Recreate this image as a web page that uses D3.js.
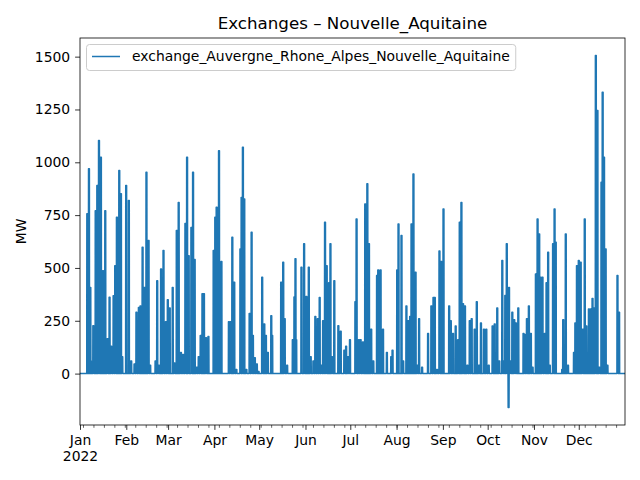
<!DOCTYPE html>
<html>
<head>
<meta charset="utf-8">
<script src="https://cdn.jsdelivr.net/npm/d3@7"></script>
<style>
  html, body { margin: 0; padding: 0; background: #fff; }
  svg { display: block; font-family: "DejaVu Sans", sans-serif; }
</style>
</head>
<body>
<svg id="chart" width="640" height="480"></svg>
<script>
// ---- data ----
const seriesName = "exchange_Auvergne_Rhone_Alpes_Nouvelle_Aquitaine";
const rangeStart = "2022-01-01 00";
const rangeEnd = "2022-12-31 23";
const monthTicks = ["2022-01-01 00","2022-02-01 00","2022-03-01 00","2022-04-01 00","2022-05-01 00","2022-06-01 00",
  "2022-07-01 00","2022-08-01 00","2022-09-01 00","2022-10-01 00","2022-11-01 00","2022-12-01 00"];
const monthLabels = ["Jan","Feb","Mar","Apr","May","Jun","Jul","Aug","Sep","Oct","Nov","Dec"];
const yearLabel = "2022";
const yTicks = [0, 250, 500, 750, 1000, 1250, 1500];

const spikeTimes = [
  "2022-01-05 21","2022-01-07 00","2022-01-07 22","2022-01-08 07","2022-01-09 22","2022-01-11 12","2022-01-12 14",
  "2022-01-13 17","2022-01-15 00","2022-01-16 10","2022-01-17 22","2022-01-19 10","2022-01-20 19","2022-01-21 22",
  "2022-01-23 12","2022-01-24 14","2022-01-25 17","2022-01-27 07","2022-01-28 10","2022-01-29 07","2022-01-31 22",
  "2022-02-02 17","2022-02-04 07","2022-02-06 12","2022-02-07 19","2022-02-09 10","2022-02-10 12","2022-02-11 22",
  "2022-02-13 05","2022-02-14 12","2022-02-15 22","2022-02-17 00","2022-02-20 14","2022-02-21 17","2022-02-22 19",
  "2022-02-24 07","2022-02-25 22","2022-02-27 12","2022-02-28 19",
  "2022-03-02 02","2022-03-04 02","2022-03-05 07","2022-03-06 19","2022-03-08 02","2022-03-09 14","2022-03-11 00",
  "2022-03-12 14","2022-03-13 17","2022-03-14 19","2022-03-16 14","2022-03-17 17","2022-03-18 19","2022-03-20 05",
  "2022-03-21 12","2022-03-22 19","2022-03-24 00","2022-03-25 00","2022-03-26 10","2022-03-28 00","2022-03-31 12",
  "2022-04-01 14","2022-04-02 12","2022-04-03 10","2022-04-04 02","2022-04-05 17","2022-04-10 17","2022-04-11 22",
  "2022-04-13 00","2022-04-14 07","2022-04-15 17","2022-04-18 10","2022-04-19 05","2022-04-20 02","2022-04-21 00",
  "2022-04-22 10","2022-04-24 14","2022-04-25 22","2022-04-26 19","2022-04-28 02","2022-04-29 10","2022-04-30 14",
  "2022-05-03 00","2022-05-04 10","2022-05-05 12","2022-05-06 19","2022-05-09 02","2022-05-09 17","2022-05-15 17",
  "2022-05-17 02","2022-05-18 02","2022-05-19 17","2022-05-23 12","2022-05-24 14","2022-05-25 07","2022-05-25 19",
  "2022-05-29 07","2022-05-31 02","2022-06-01 14","2022-06-03 05","2022-06-04 12","2022-06-06 07","2022-06-07 14",
  "2022-06-09 05","2022-06-10 12","2022-06-11 17","2022-06-12 19","2022-06-14 02","2022-06-15 05","2022-06-16 19",
  "2022-06-17 17","2022-06-18 19","2022-06-20 07","2022-06-23 00","2022-06-24 14","2022-06-27 00","2022-06-28 05",
  "2022-06-29 12","2022-06-30 19",
  "2022-07-04 10","2022-07-05 05","2022-07-06 19","2022-07-07 22","2022-07-09 12","2022-07-11 00","2022-07-12 10",
  "2022-07-13 12","2022-07-15 00","2022-07-16 10","2022-07-18 22","2022-07-19 17","2022-07-21 07","2022-07-22 22",
  "2022-07-25 12","2022-07-28 10","2022-07-29 07",
  "2022-08-01 10","2022-08-02 07","2022-08-04 07","2022-08-05 10","2022-08-07 14","2022-08-08 19","2022-08-10 02",
  "2022-08-11 00","2022-08-12 07","2022-08-13 17","2022-08-14 19","2022-08-16 02","2022-08-18 02","2022-08-22 02",
  "2022-08-24 07","2022-08-25 17","2022-08-26 14","2022-08-28 02","2022-08-29 17","2022-08-31 00",
  "2022-09-01 10","2022-09-05 05","2022-09-06 07","2022-09-07 19","2022-09-09 14","2022-09-11 05","2022-09-12 07",
  "2022-09-13 10","2022-09-14 12","2022-09-15 19","2022-09-17 10","2022-09-19 00","2022-09-20 07","2022-09-22 07",
  "2022-09-23 17","2022-09-25 05","2022-09-26 12","2022-09-28 12","2022-09-30 02",
  "2022-10-01 17","2022-10-04 07","2022-10-05 17","2022-10-07 10","2022-10-08 19","2022-10-10 19","2022-10-11 22",
  "2022-10-12 19","2022-10-13 19","2022-10-15 00","2022-10-15 07","2022-10-16 10","2022-10-17 12","2022-10-18 19",
  "2022-10-19 22","2022-10-21 12","2022-10-25 00","2022-10-25 22","2022-10-27 07","2022-10-28 14","2022-10-29 22",
  "2022-10-31 02",
  "2022-11-02 07","2022-11-03 10","2022-11-04 12","2022-11-05 10","2022-11-06 17","2022-11-08 07","2022-11-09 10",
  "2022-11-10 12","2022-11-11 14","2022-11-13 19","2022-11-14 19","2022-11-15 14","2022-11-19 22","2022-11-20 14",
  "2022-11-22 07","2022-11-23 19","2022-11-27 19","2022-11-28 17","2022-11-29 19",
  "2022-12-01 00","2022-12-02 07","2022-12-03 17","2022-12-05 00","2022-12-06 02","2022-12-07 19","2022-12-09 02",
  "2022-12-10 05","2022-12-11 02","2022-12-12 10","2022-12-13 12","2022-12-14 19","2022-12-16 05","2022-12-17 00",
  "2022-12-17 22","2022-12-19 00","2022-12-20 05","2022-12-26 22","2022-12-28 00"
];
const spikeValues = [
  756, 969, 408, 60, 227, 771, 890,
  1103, 1024, 487, 771, 165, 361, 130,
  369, 511, 740, 961, 851, 80, 890,
  819, 60, 45, 290, 313, 320, 598,
  408, 953, 630, 40, 60, 440, 40,
  495, 582, 245, 350,
  310, 407, 50, 677, 810, 100, 90,
  710, 1024, 558, 692, 953, 540, 30,
  80, 180, 378, 378, 170, 175, 582,
  740, 787, 520, 1055, 530, 245, 245,
  645, 432, 20, 590, 834, 1071, 826,
  20, 285, 669, 180, 75, 45, 10,
  456, 235, 180, 100, 274, 180, 432,
  527, 260, 40, 160, 363, 543, 160,
  503, 614, 365, 503, 80, 60, 270,
  260, 360, 40, 250, 716, 510, 430,
  614, 80, 440, 227, 200, 110, 130,
  80, 160,
  340, 732, 160, 160, 150, 803, 898,
  614, 210, 60, 464, 490, 490, 210,
  100, 80, 110,
  490, 708, 653, 60, 320, 250, 270,
  708, 945, 480, 40, 260, 30, 190,
  320, 360, 360, 20, 580, 530,
  779, 320, 250, 190, 225, 160, 716,
  810, 330, 320, 40, 250, 260, 210,
  340, 40, 240, 210, 210,
  40, 225, 235, 310, 60, 535, 60,
  370, 614, -160, 408, 60, 290, 255,
  240, 310, 190, 185, 260, 320, 190,
  30,
  471, 732, 661, 456, 456, 190, 430,
  574, 40, 614, 779, 622, 20, 255,
  661, 40, 100, 240, 511,
  535, 527, 210, 732, 225, 306, 306,
  355, 310, 1505, 1245, 30, 905, 1331,
  1024, 590, 40, 464, 290
];

// ---- layout ----
const m = { left: 80, right: 625, top: 38, bottom: 425 };
const color = "#1f77b4";
const svg = d3.select("#chart");
const parse = d3.utcParse("%Y-%m-%d %H");

const t0 = parse(rangeStart), t1 = parse(rangeEnd);
const spikes = spikeTimes.map((s, i) => ({ t: parse(s), v: spikeValues[i] }));

const vMin = Math.min(0, d3.min(spikeValues)), vMax = d3.max(spikeValues);
const pad = (vMax - vMin) * 0.05;
const x = d3.scaleUtc().domain([t0, t1]).range([m.left, m.right]);
const y = d3.scaleLinear().domain([vMin - pad, vMax + pad]).range([m.bottom, m.top]);

// build the line: baseline zero between short blocks around each reading
const pts = [{ t: t0, v: 0 }];
const h = 3600e3;
spikes.forEach(s => {
  pts.push({ t: new Date(+s.t - 9 * h), v: 0 });
  pts.push({ t: new Date(+s.t - 7 * h), v: s.v });
  pts.push({ t: new Date(+s.t + 7 * h), v: s.v });
  pts.push({ t: new Date(+s.t + 9 * h), v: 0 });
});
pts.push({ t: t1, v: 0 });

svg.append("defs").append("clipPath").attr("id", "clip")
  .append("rect").attr("x", m.left).attr("y", m.top)
  .attr("width", m.right - m.left).attr("height", m.bottom - m.top);

svg.append("path")
  .datum(pts)
  .attr("clip-path", "url(#clip)")
  .attr("fill", "none")
  .attr("stroke", color)
  .attr("stroke-width", 1.5)
  .attr("stroke-linejoin", "round")
  .attr("d", d3.line().x(d => x(d.t)).y(d => y(d.v)));

// ---- axes ----
const fs = 13.9;
const mondays = d3.utcMonday.range(t0, t1);
const xMinor = svg.append("g").attr("transform", `translate(0,${m.bottom})`)
  .call(d3.axisBottom(x).tickValues(mondays).tickSize(2.8).tickFormat(""));
xMinor.select(".domain").remove();
xMinor.selectAll("line").attr("stroke", "#000").attr("stroke-width", 0.6);

const monthDates = monthTicks.map(parse);
const xMajor = svg.append("g").attr("transform", `translate(0,${m.bottom})`)
  .call(d3.axisBottom(x).tickValues(monthDates).tickSize(4.9).tickPadding(4.9)
    .tickFormat((d, i) => monthLabels[i]));
xMajor.select(".domain").remove();
xMajor.selectAll("line").attr("stroke", "#000").attr("stroke-width", 0.8);
xMajor.selectAll("text").attr("font-size", fs).attr("fill", "#000")
  .attr("font-family", "DejaVu Sans, sans-serif");
xMajor.selectAll(".tick").filter((d, i) => i === 0)
  .append("text").attr("y", 9.8).attr("dy", "1.86em")
  .attr("font-size", fs).attr("fill", "#000").attr("text-anchor", "middle")
  .attr("font-family", "DejaVu Sans, sans-serif")
  .text(yearLabel);

const yAxis = svg.append("g").attr("transform", `translate(${m.left},0)`)
  .call(d3.axisLeft(y).tickValues(yTicks).tickSize(4.9).tickPadding(4.9).tickFormat(d3.format("d")));
yAxis.select(".domain").remove();
yAxis.selectAll("line").attr("stroke", "#000").attr("stroke-width", 0.8);
yAxis.selectAll("text").attr("font-size", fs).attr("fill", "#000")
  .attr("font-family", "DejaVu Sans, sans-serif");

// frame
svg.append("rect").attr("x", m.left).attr("y", m.top)
  .attr("width", m.right - m.left).attr("height", m.bottom - m.top)
  .attr("fill", "none").attr("stroke", "#000").attr("stroke-width", 0.8);

// title + y label
svg.append("text").attr("x", (m.left + m.right) / 2).attr("y", 29)
  .attr("text-anchor", "middle").attr("font-size", 16.7).attr("fill", "#000")
  .text("Exchanges \u2013 Nouvelle_Aquitaine");
svg.append("text")
  .attr("transform", `translate(26,${(m.top + m.bottom) / 2}) rotate(-90)`)
  .attr("text-anchor", "middle").attr("font-size", fs).attr("fill", "#000")
  .text("MW");

// legend
const lg = svg.append("g");
const lgText = lg.append("text").attr("x", 132).attr("y", 61)
  .attr("font-size", fs).attr("fill", "#000").text(seriesName);
const tw = lgText.node().getComputedTextLength();
lg.insert("rect", "text").attr("x", 86.5).attr("y", 44.5)
  .attr("width", 132 + tw + 6 - 86.5).attr("height", 26)
  .attr("rx", 3).attr("fill", "#fff").attr("fill-opacity", 0.8)
  .attr("stroke", "#ccc").attr("stroke-width", 1);
lg.append("line").attr("x1", 92).attr("x2", 120).attr("y1", 56.5).attr("y2", 56.5)
  .attr("stroke", color).attr("stroke-width", 1.5);
</script>
</body>
</html>
